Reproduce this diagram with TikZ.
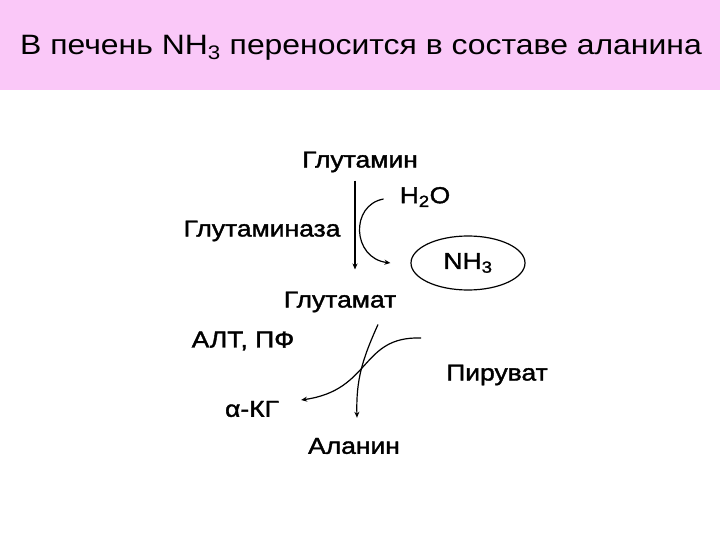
\documentclass[tikz,border=0pt]{standalone}
\usepackage{fontspec}
\setmainfont{Liberation Sans}
\newfontfamily\widesans[FakeStretch=1.14]{Liberation Sans}
\newfontfamily\labsans[FakeStretch=1.15,FakeBold=1.6]{Liberation Sans}
\usetikzlibrary{arrows.meta,shapes.geometric,calc}
\definecolor{headpink}{RGB}{250,200,248}
\tikzset{
  lbl/.style={inner sep=0pt, font=\labsans\fontsize{23}{26}\selectfont},
  react/.style={line width=1.2pt, -{Stealth[length=6pt,width=5pt]}}
}
\begin{document}
\begin{tikzpicture}[x=1pt,y=-1pt]
  \useasboundingbox (0,0) rectangle (720,540);

  % header
  \fill[headpink] (0,0) rectangle (720,90);
  \node[inner sep=0pt, font=\widesans\fontsize{28}{32}\selectfont] (title) at (361,48)
    {В печень NH\textsubscript{3} переносится в составе аланина};

  % glutamine -> glutamate
  \node[lbl] (gln) at (360,162) {Глутамин};
  \node[lbl] (water) at (425,197) {H\textsubscript{2}O};
  \node[lbl] (glnase) at (262,231) {Глутаминаза};
  \node[draw, ellipse, line width=1.2pt, minimum width=114pt, minimum height=54pt,
        font=\labsans\fontsize{23}{26}\selectfont] (nh) at (468,263) {NH\textsubscript{3}};
  \node[lbl] (glu) at (340,302) {Глутамат};

  \coordinate (s1) at ($(gln.south)+(-5,8)$);
  \coordinate (e1) at ($(glu.north)+(15,-22)$);
  \draw[react] (s1) -- (s1 |- e1);
  \coordinate (w1) at ($(water.west)+(-16,2)$);
  \coordinate (n1) at ($(nh.west)+(-20,0)$);
  \draw[react] (w1) .. controls (350,205) and (352,258) .. (n1);

  % transamination
  \node[lbl] (alt) at (243,341) {АЛТ, ПФ};
  \node[lbl] (pyr) at (497,375) {Пируват};
  \node[lbl] (akg) at (252,409) {α-КГ};
  \node[lbl] (ala) at (354,446) {Аланин};

  \coordinate (g2) at ($(glu.south)+(38,12)$);
  \coordinate (a2) at ($(ala.north)+(3,-20)$);
  \draw[react] (g2) .. controls (362,360) and (356,380) .. (a2);
  \coordinate (p2) at ($(pyr.west)+(-25,-37)$);
  \coordinate (k2) at ($(akg.east)+(22,-9)$);
  \draw[react] (p2) .. controls (360,336) and (372,390) .. (k2);
\end{tikzpicture}
\end{document}
